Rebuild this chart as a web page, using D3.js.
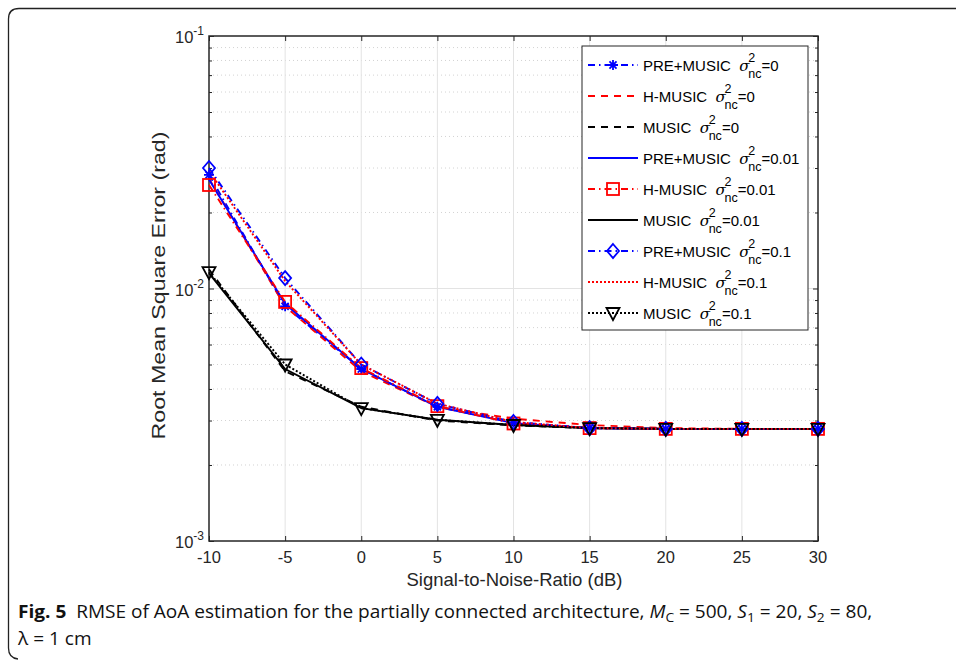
<!DOCTYPE html>
<html><head><meta charset="utf-8">
<script src="https://cdn.jsdelivr.net/npm/d3@7"></script>
<style>body{margin:0;background:#fff;} svg{display:block;}</style>
</head><body>
<svg id="c" width="956" height="660"></svg>
<script>
const snr = [-10, -5, 0, 5, 10, 15, 20, 25, 30];
const xTicks = [-10, -5, 0, 5, 10, 15, 20, 25, 30];
const yDecades = [-3, -2, -1];
const preMusic0   = [0.0282, 0.0085, 0.0048, 0.0034, 0.00295, 0.0028, 0.00278, 0.00278, 0.00278];
const hMusic0     = [0.0272, 0.0085, 0.0047, 0.0034, 0.00305, 0.00288, 0.0028, 0.00278, 0.00278];
const music0      = [0.0119, 0.0047, 0.0034, 0.0030, 0.00287, 0.0028, 0.00278, 0.00278, 0.00278];
const preMusic001 = [0.0270, 0.0087, 0.0048, 0.0034, 0.00293, 0.0028, 0.00278, 0.00278, 0.00278];
const hMusic001   = [0.0257, 0.00885, 0.00484, 0.00342, 0.00292, 0.0028, 0.00278, 0.00278, 0.00278];
const music001    = [0.0115, 0.0048, 0.00336, 0.00302, 0.00288, 0.0028, 0.00278, 0.00278, 0.00278];
const preMusic01  = [0.0300, 0.0110, 0.0050, 0.00349, 0.00296, 0.0028, 0.00278, 0.00278, 0.00278];
const hMusic01    = [0.0292, 0.0107, 0.0050, 0.0035, 0.00296, 0.0028, 0.00278, 0.00278, 0.00278];
const music01     = [0.0116, 0.0050, 0.00336, 0.00302, 0.00288, 0.0028, 0.00278, 0.00278, 0.00278];
const seriesNames = ["PRE+MUSIC", "H-MUSIC", "MUSIC", "PRE+MUSIC", "H-MUSIC", "MUSIC", "PRE+MUSIC", "H-MUSIC", "MUSIC"];
const sigmaLabels = ["0", "0", "0", "0.01", "0.01", "0.01", "0.1", "0.1", "0.1"];

const DASH = "7,6", DASHDOT = "7,4,1.5,4", DOT = "2,2";
const series = [
  {v: preMusic0,   color: "#0000ff", dash: DASHDOT, marker: "star"},
  {v: hMusic0,     color: "#ff0000", dash: DASH,    marker: null},
  {v: music0,      color: "#000000", dash: DASH,    marker: null},
  {v: preMusic001, color: "#0000ff", dash: null,    marker: null},
  {v: hMusic001,   color: "#ff0000", dash: DASHDOT, marker: "square"},
  {v: music001,    color: "#000000", dash: null,    marker: null},
  {v: preMusic01,  color: "#0000ff", dash: DASHDOT, marker: "diamond"},
  {v: hMusic01,    color: "#ff0000", dash: DOT,     marker: null},
  {v: music01,     color: "#000000", dash: DOT,     marker: "tri"}
];

const svg = d3.select("#c");
const L = 209, R = 818, T = 36, B = 541;
const x = d3.scaleLinear().domain([-10, 30]).range([L, R]);
const y = d3.scaleLog().domain([1e-3, 1e-1]).range([B, T]);

// outer frame
svg.append("path")
  .attr("d", "M956,8.5 L19,8.5 Q8.5,8.5 8.5,19 L8.5,648 Q8.5,658 18,659")
  .attr("fill", "none").attr("stroke", "#222").attr("stroke-width", 1.3);

const g = svg.append("g");
// grids
const minorVals = [];
yDecades.slice(0, 2).forEach(d => { for (let k = 2; k <= 9; k++) minorVals.push(k * Math.pow(10, d)); });
g.selectAll(".ymin").data(minorVals).enter().append("line")
  .attr("x1", L).attr("x2", R).attr("y1", d => y(d)).attr("y2", d => y(d))
  .attr("stroke", "#c8c8c8").attr("stroke-width", 0.8).attr("stroke-dasharray", "1,3");
g.selectAll(".xg").data(xTicks.slice(1, -1)).enter().append("line")
  .attr("x1", d => x(d)).attr("x2", d => x(d)).attr("y1", T).attr("y2", B)
  .attr("stroke", "#e3e3e3").attr("stroke-width", 1);
g.append("line").attr("x1", L).attr("x2", R).attr("y1", y(1e-2)).attr("y2", y(1e-2))
  .attr("stroke", "#e3e3e3").attr("stroke-width", 1);

// axes with d3
const axB = d3.axisBottom(x).tickValues(xTicks).tickSize(-5).tickFormat("");
const axT = d3.axisTop(x).tickValues(xTicks).tickSize(-5).tickFormat("");
g.append("g").attr("transform", `translate(0,${B})`).call(axB);
g.append("g").attr("transform", `translate(0,${T})`).call(axT);
const majors = yDecades.map(d => Math.pow(10, d));
const axL = d3.axisLeft(y).tickValues(majors).tickSize(-5).tickFormat("");
const axR = d3.axisRight(y).tickValues(majors).tickSize(-5).tickFormat("");
const axLm = d3.axisLeft(y).tickValues(minorVals).tickSize(-3).tickFormat("");
const axRm = d3.axisRight(y).tickValues(minorVals).tickSize(-3).tickFormat("");
g.append("g").attr("transform", `translate(${L},0)`).call(axL);
g.append("g").attr("transform", `translate(${R},0)`).call(axR);
g.append("g").attr("transform", `translate(${L},0)`).call(axLm);
g.append("g").attr("transform", `translate(${R},0)`).call(axRm);
g.selectAll(".domain").attr("stroke", "none");
g.selectAll(".tick line").attr("stroke", "#262626").attr("stroke-width", 1);
g.append("rect").attr("x", L).attr("y", T).attr("width", R - L).attr("height", B - T)
  .attr("fill", "none").attr("stroke", "#262626").attr("stroke-width", 1.5);

// tick labels
const FONT = "'Liberation Sans', Arial, Helvetica, sans-serif";
g.selectAll(".xl").data(xTicks).enter().append("text")
  .attr("x", d => x(d)).attr("y", B + 22).attr("text-anchor", "middle")
  .attr("font-family", FONT).attr("font-size", 16.5).attr("fill", "#262626").text(d => d);
yDecades.forEach(d => {
  const t = g.append("text").attr("x", L - 5).attr("y", y(Math.pow(10, d)) + 7)
    .attr("text-anchor", "end").attr("font-family", FONT).attr("font-size", 16.5).attr("fill", "#262626");
  t.append("tspan").text("10");
  t.append("tspan").attr("dy", -8).attr("font-size", 12).text(d);
});
svg.append("text").attr("x", (L + R) / 2 + 1).attr("y", 586).attr("text-anchor", "middle")
  .attr("font-family", FONT).attr("font-size", 19).attr("fill", "#262626")
  .attr("textLength", 216).attr("lengthAdjust", "spacingAndGlyphs").text("Signal-to-Noise-Ratio (dB)");
svg.append("text").attr("transform", `translate(165,${(T + B) / 2 - 3}) rotate(-90)`).attr("text-anchor", "middle")
  .attr("font-family", FONT).attr("font-size", 18.5).attr("fill", "#262626")
  .attr("textLength", 308).attr("lengthAdjust", "spacingAndGlyphs").text("Root Mean Square Error (rad)");

// markers
function drawMarker(sel, type, cx, cy, color) {
  if (type === "star") {
    const r = 5;
    const p = [];
    [0, 45, 90, 135].forEach(a => {
      const rad = a * Math.PI / 180;
      p.push(`M${cx - r * Math.cos(rad)},${cy - r * Math.sin(rad)}L${cx + r * Math.cos(rad)},${cy + r * Math.sin(rad)}`);
    });
    sel.append("path").attr("d", p.join("")).attr("stroke", color).attr("stroke-width", 1.8).attr("fill", "none");
  } else if (type === "square") {
    sel.append("rect").attr("x", cx - 6).attr("y", cy - 6).attr("width", 12).attr("height", 12)
      .attr("fill", "none").attr("stroke", color).attr("stroke-width", 1.8);
  } else if (type === "diamond") {
    sel.append("path").attr("d", `M${cx},${cy - 7}L${cx + 6},${cy}L${cx},${cy + 7}L${cx - 6},${cy}Z`)
      .attr("fill", "none").attr("stroke", color).attr("stroke-width", 1.8);
  } else if (type === "tri") {
    sel.append("path").attr("d", `M${cx - 6.5},${cy - 5}L${cx + 6.5},${cy - 5}L${cx},${cy + 7}Z`)
      .attr("fill", "none").attr("stroke", color).attr("stroke-width", 1.8);
  }
}

const line = d3.line().x((d, i) => x(snr[i])).y(d => y(d));
const dg = svg.append("g");
series.forEach(s => {
  dg.append("path").attr("d", line(s.v)).attr("fill", "none").attr("stroke", s.color)
    .attr("stroke-width", 1.9).attr("stroke-dasharray", s.dash);
});
series.forEach(s => {
  if (s.marker) s.v.forEach((d, i) => drawMarker(dg, s.marker, x(snr[i]), y(d), s.color));
});

// legend
const lx = 582, ly = 46, lw = 226, lh = 284;
const lg = svg.append("g");
lg.append("rect").attr("x", lx).attr("y", ly).attr("width", lw).attr("height", lh)
  .attr("fill", "#fff").attr("stroke", "#262626").attr("stroke-width", 1);
series.forEach((s, i) => {
  const yy = 65 + i * 31;
  lg.append("line").attr("x1", 588).attr("x2", 638).attr("y1", yy).attr("y2", yy)
    .attr("stroke", s.color).attr("stroke-width", 1.9).attr("stroke-dasharray", s.dash);
  if (s.marker) drawMarker(lg, s.marker, 613, yy, s.color);
  const t = lg.append("text").attr("x", 643).attr("y", yy + 6).attr("font-family", FONT)
    .attr("font-size", 15).attr("fill", "#000").attr("xml:space", "preserve").text(seriesNames[i] + "  ");
  const w = t.node().getComputedTextLength();
  const sx = 643 + w;
  lg.append("text").attr("x", sx).attr("y", yy + 6).attr("font-family", "'DejaVu Serif', serif").attr("font-style", "italic")
    .attr("font-size", 15).text("σ");
  const sw = 9;
  lg.append("text").attr("x", sx + sw).attr("y", yy - 3).attr("font-family", FONT).attr("font-size", 12.5).text("2");
  const nc = lg.append("text").attr("x", sx + sw).attr("y", yy + 13).attr("font-family", FONT).attr("font-size", 12.5).text("nc");
  const nw = nc.node().getComputedTextLength();
  lg.append("text").attr("x", sx + sw + nw).attr("y", yy + 6).attr("font-family", FONT).attr("font-size", 15)
    .text("=" + sigmaLabels[i]);
});

// caption
const CF = "'Open Sans', sans-serif";
const cap = svg.append("text").attr("x", 18).attr("y", 618).attr("font-family", CF).attr("font-size", 18).attr("fill", "#111");
cap.append("tspan").attr("font-weight", "bold").text("Fig. 5");
cap.append("tspan").attr("xml:space", "preserve").text("  RMSE of AoA estimation for the partially connected architecture, ");
cap.append("tspan").attr("font-style", "italic").text("M");
cap.append("tspan").attr("font-size", 13).attr("dy", 4).text("C");
cap.append("tspan").attr("dy", -4).attr("xml:space", "preserve").text(" = 500, ");
cap.append("tspan").attr("font-style", "italic").text("S");
cap.append("tspan").attr("font-size", 13).attr("dy", 4).text("1");
cap.append("tspan").attr("dy", -4).attr("xml:space", "preserve").text(" = 20, ");
cap.append("tspan").attr("font-style", "italic").text("S");
cap.append("tspan").attr("font-size", 13).attr("dy", 4).text("2");
cap.append("tspan").attr("dy", -4).attr("xml:space", "preserve").text(" = 80,");
const cw = cap.node().getComputedTextLength();
const sc = 855 / cw;
cap.attr("transform", `translate(18,0) scale(${sc},1) translate(-18,0)`);
const cap2 = svg.append("text").attr("x", 18).attr("y", 645).attr("font-family", CF).attr("font-size", 18).attr("fill", "#111")
  .attr("xml:space", "preserve").text("λ = 1 cm");
cap2.attr("transform", `translate(18,0) scale(${sc},1) translate(-18,0)`);
</script>
</body></html>
